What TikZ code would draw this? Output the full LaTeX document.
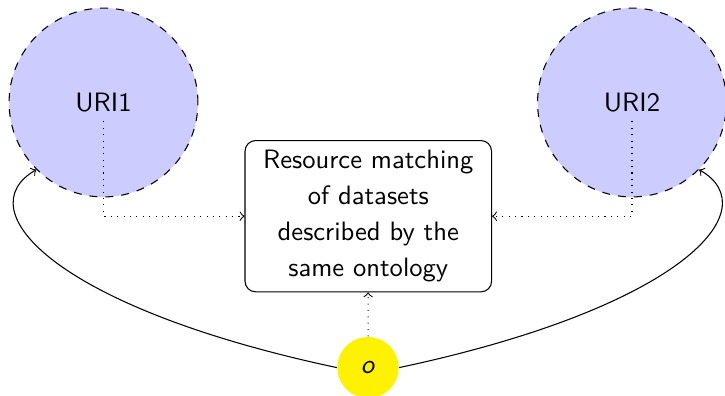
\documentclass[tikz,border=0pt]{standalone}
\begin{document}
\begin{tikzpicture}[x=0.376pt,y=0.376pt,
  font=\sffamily,
  uri/.style={circle,draw,dashed,fill=blue!20,minimum size=71pt,inner sep=0pt},
  urilabel/.style={inner sep=0.3333em},
  task/.style={draw,rounded corners,align=center,text width=86pt,
    inner xsep=3.35pt,inner ysep=3.7pt,font=\sffamily\fontsize{10}{13.5}\selectfont},
  ont/.style={circle,fill=yellow,minimum size=23pt,inner sep=0pt},
  link/.style={->,dotted},
  bond/.style={->}]
\useasboundingbox (0,0) rectangle (725,-395);

% resources and ontology
\node[uri] (u1) at (103.5,-102.5) {};
\node[urilabel] (t1) at (u1.center) {URI1};
\node[uri] (u2) at (632,-102.5) {};
\node[urilabel] (t2) at (u2.center) {URI2};
\node[task] (m) at (368.3,-216.2) {Resource matching\\of datasets\\described by the\\same ontology};
\node[ont] (o) at (368,-367.6) {\textit{o}};

% inputs of the matching task
\draw[link] (t1) |- (m);
\draw[link] (t2) |- (m);
\draw[link] (o) -- (m);

% both datasets are described by the ontology
\draw[bond] (o.west) .. controls +(168:290) and +(210:80) .. (u1.225);
\draw[bond] (o.east) .. controls +(12:290) and +(-30:80) .. (u2.315);
\end{tikzpicture}
\end{document}
